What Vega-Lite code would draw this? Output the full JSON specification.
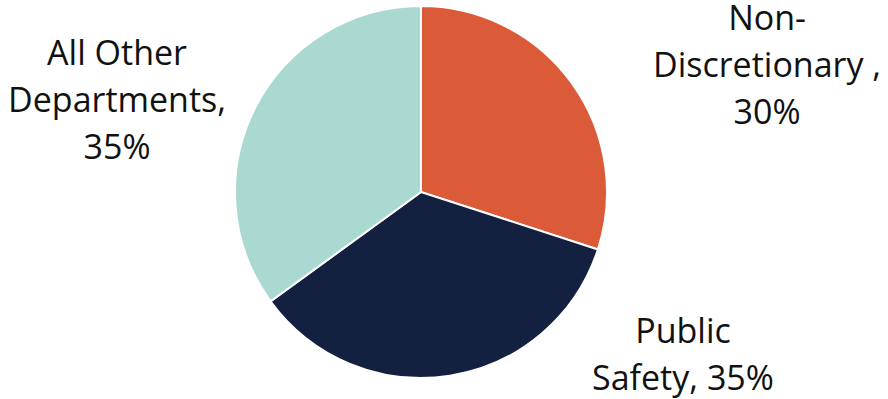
{
  "$schema": "https://vega.github.io/schema/vega-lite/v6.json",
  "width": 842,
  "height": 384,
  "autosize": "none",
  "padding": {"left": 0, "top": 0, "right": 46, "bottom": 15},
  "background": "white",
  "config": {"view": {"stroke": null}, "text": {"font": "Open Sans"}},
  "data": {
    "values": [
      {"category": "Non-Discretionary", "value": 30, "idx": 1, "label": "Non-\nDiscretionary ,\n30%"},
      {"category": "Public Safety", "value": 35, "idx": 2, "label": "Public\nSafety, 35%"},
      {"category": "All Other Departments", "value": 35, "idx": 3, "label": "All Other\nDepartments,\n35%"}
    ]
  },
  "encoding": {
    "theta": {"field": "value", "type": "quantitative", "stack": true},
    "order": {"field": "idx", "type": "quantitative"}
  },
  "layer": [
    {
      "mark": {"type": "arc", "outerRadius": 186, "stroke": "white", "strokeWidth": 2},
      "encoding": {
        "color": {
          "field": "category",
          "type": "nominal",
          "scale": {
            "domain": ["Non-Discretionary", "Public Safety", "All Other Departments"],
            "range": ["#DB5A37", "#13203F", "#A9D9D0"]
          },
          "legend": null
        }
      }
    },
    {
      "mark": {"type": "text", "radius": 230, "dx": 160, "dy": -37, "fontSize": 34, "lineHeight": 47, "lineBreak": "\n", "align": "center", "baseline": "middle", "color": "#111111"},
      "encoding": {
        "text": {"condition": {"test": "datum.category === 'Non-Discretionary'", "field": "label"}, "value": ""}
      }
    },
    {
      "mark": {"type": "text", "radius": 230, "dx": 226, "dy": -86, "fontSize": 34, "lineHeight": 47, "lineBreak": "\n", "align": "center", "baseline": "middle", "color": "#111111"},
      "encoding": {
        "text": {"condition": {"test": "datum.category === 'Public Safety'", "field": "label"}, "value": ""}
      }
    },
    {
      "mark": {"type": "text", "radius": 230, "dx": -99, "dy": -33, "fontSize": 34, "lineHeight": 47, "lineBreak": "\n", "align": "center", "baseline": "middle", "color": "#111111"},
      "encoding": {
        "text": {"condition": {"test": "datum.category === 'All Other Departments'", "field": "label"}, "value": ""}
      }
    }
  ]
}
